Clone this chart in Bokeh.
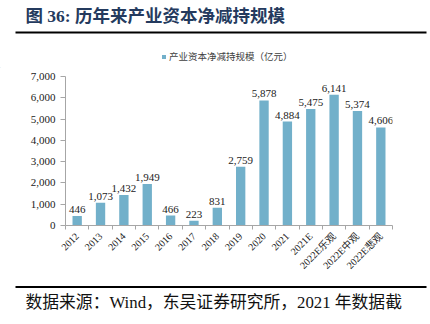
from bokeh.plotting import figure
from bokeh.layouts import column
from bokeh.models import (ColumnDataSource, FixedTicker, NumeralTickFormatter, Range1d,
                          Legend, LegendItem, BoxAnnotation)
from bokeh.core.properties import value
from bokeh.embed import file_html
from bokeh.resources import INLINE
import math

categories = ["2012", "2013", "2014", "2015", "2016", "2017", "2018", "2019", "2020",
              "2021", "2021E", "2022E乐观", "2022E中观", "2022E悲观"]
values = [446, 1073, 1432, 1949, 466, 223, 831, 2759, 5878, 4884, 5475, 6141, 5374, 4606]
value_labels = [f"{v:,}" for v in values]
y_ticks = [0, 1000, 2000, 3000, 4000, 5000, 6000, 7000]
series_name = "产业资本净减持规模（亿元）"
title_text = "图 36:  历年来产业资本净减持规模"
source_text = "数据来源：Wind，东吴证券研究所，2021 年数据截"

BAR = "#72b0ca"
SERIF = "'Liberation Serif', 'Noto Sans CJK SC'"
W = 430
TOP_H, MAIN_H, BOT_H = 68, 217, 39


def deco_fig(h):
    # pixel-space strip: x = pixels from left, y = pixels from the strip's bottom
    f = figure(width=W, height=h, output_backend="svg", toolbar_location=None,
               x_axis_type=None, y_axis_type=None, frame_align=False,
               x_range=Range1d(0, W), y_range=Range1d(0, h),
               min_border=0, min_border_left=0, min_border_right=0,
               min_border_top=0, min_border_bottom=0)
    f.outline_line_color = None
    f.background_fill_color = "white"
    f.border_fill_color = "white"
    return f


def rule(f, y):
    f.add_layout(BoxAnnotation(left=15, right=426, bottom=y - 1, top=y + 1,
                               fill_color="black", fill_alpha=1, line_color=None))


# ---------- header: title, rule, legend ----------
top = deco_fig(TOP_H)
top.text(x=[25], y=[TOP_H - 15], text=[title_text], text_font=value(SERIF),
         text_font_size="17.5px", text_font_style="bold", text_color="#243a5e",
         text_baseline="middle")
rule(top, TOP_H - 32)
# legend swatch renderer kept outside the visible strip
leg_r = top.vbar(x=[-100], top=[1], width=1, fill_color=BAR, line_color=None)
legend = Legend(items=[LegendItem(label=series_name, renderers=[leg_r])],
                location=(161, 5), orientation="horizontal", glyph_width=5, glyph_height=5,
                label_height=10, label_standoff=3, label_text_font_size="9.5px",
                label_text_font=SERIF, label_text_color="#404040",
                label_text_baseline="middle",
                border_line_color=None, background_fill_alpha=0, padding=0, margin=0)
top.add_layout(legend, "center")

# ---------- main chart ----------
xpos = [i + 0.5 for i in range(len(categories))]
src = ColumnDataSource(dict(x=xpos, top=values, lab=value_labels))

p = figure(width=W, height=MAIN_H, output_backend="svg", toolbar_location=None,
           frame_align=False,
           x_range=Range1d(0, len(categories)), y_range=Range1d(0, 7000),
           min_border_left=65, min_border_right=38, min_border_top=8, min_border_bottom=60)
p.outline_line_color = None
p.xgrid.visible = False
p.ygrid.visible = False
p.background_fill_color = "white"
p.border_fill_color = "white"

p.vbar(x="x", top="top", width=0.4, source=src, fill_color=BAR, line_color=None)
p.text(x="x", y="top", text="lab", source=src, text_align="center", text_baseline="bottom",
       y_offset=-3, text_font_size="11px", text_color="#222222", text_font=value(SERIF))

p.yaxis.ticker = FixedTicker(ticks=y_ticks)
p.yaxis.formatter = NumeralTickFormatter(format="0,0")
p.yaxis.axis_line_color = "#a6a6a6"
p.yaxis.major_tick_line_color = "#a6a6a6"
p.yaxis.major_tick_out = 5
p.yaxis.major_tick_in = 0
p.yaxis.minor_tick_line_color = None
p.yaxis.major_label_text_font = SERIF
p.yaxis.major_label_text_font_size = "11px"
p.yaxis.major_label_text_color = "#222222"
p.yaxis.major_label_standoff = 5

p.xaxis.ticker = FixedTicker(ticks=xpos, minor_ticks=list(range(len(categories) + 1)))
p.xaxis.major_label_overrides = {x: c for x, c in zip(xpos, categories)}
p.xaxis.major_label_orientation = math.pi / 4
p.xaxis.axis_line_color = "#a6a6a6"
p.xaxis.major_tick_line_color = None
p.xaxis.minor_tick_line_color = "#a6a6a6"
p.xaxis.minor_tick_out = 4
p.xaxis.minor_tick_in = 0
p.xaxis.major_label_text_font = SERIF
p.xaxis.major_label_text_font_size = "10px"
p.xaxis.major_label_text_color = "#222222"
p.xaxis.major_label_standoff = 3

# ---------- footer: rule and source ----------
bot = deco_fig(BOT_H)
rule(bot, BOT_H - 1.5)
bot.text(x=[25], y=[BOT_H - 17], text=[source_text], text_font=value(SERIF),
         text_font_size="16.8px", text_color="#111111", text_baseline="middle")

layout = column(top, p, bot, spacing=0)
open("out.html", "w").write(file_html(layout, INLINE))
